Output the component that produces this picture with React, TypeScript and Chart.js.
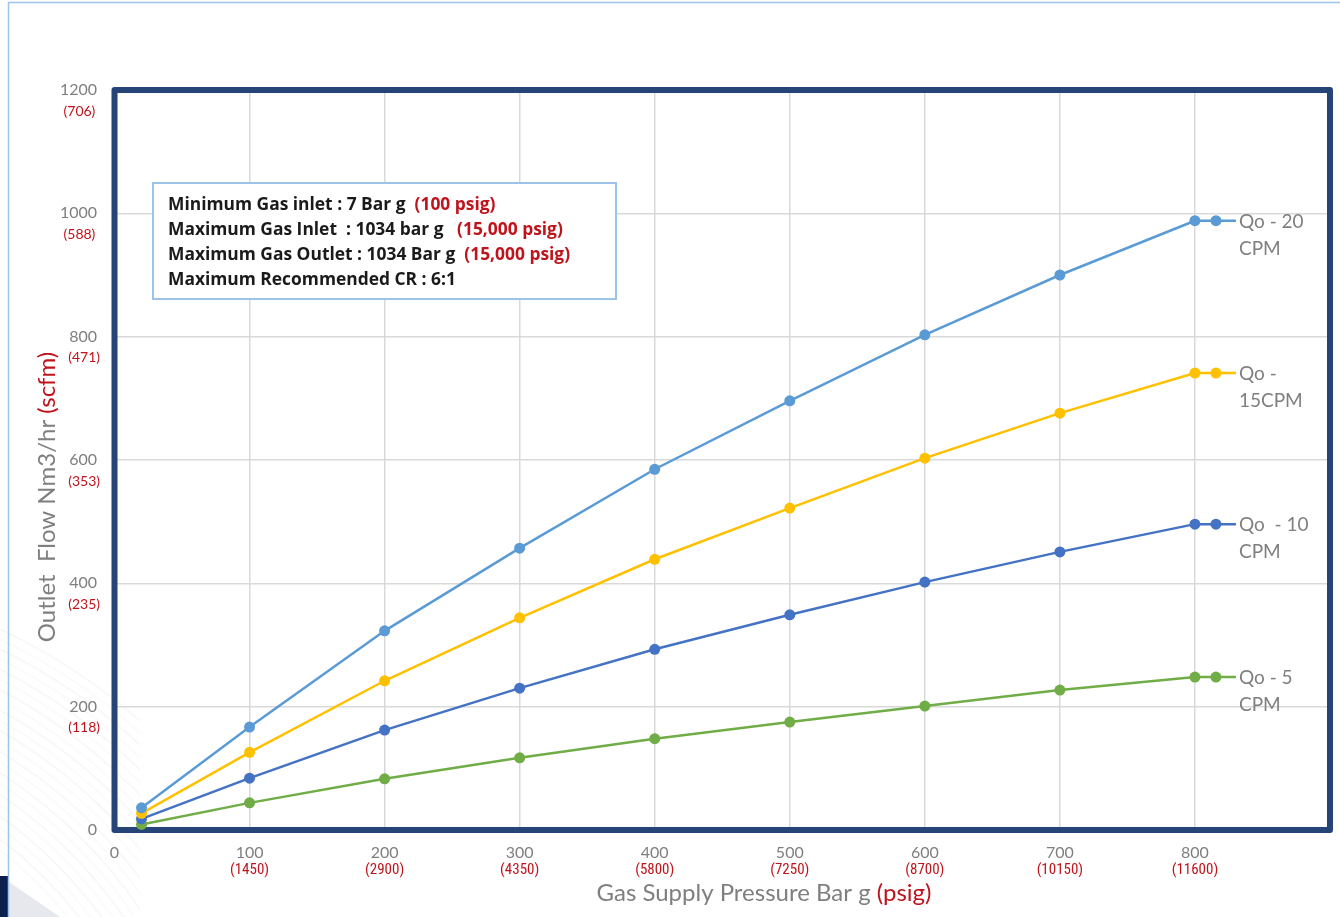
import React, { useEffect, useRef } from "react";
import { Chart, registerables } from "chart.js";

Chart.register(...registerables);

// ---------- data ----------
const pressureBar = [20, 100, 200, 300, 400, 500, 600, 700, 800];
const qo20 = [36, 167, 323, 457, 585, 696, 803, 900, 988];
const qo15 = [27, 126, 242, 344, 439, 522, 603, 676, 741];
const qo10 = [18, 84, 162, 230, 293, 349, 402, 451, 496];
const qo5 = [9, 44, 83, 117, 148, 175, 201, 227, 248];

const seriesLabels = [
  ["Qo - 20", "CPM"],
  ["Qo -", "15CPM"],
  ["Qo  - 10", "CPM"],
  ["Qo - 5", "CPM"],
];
const seriesColors = ["#5B9BD5", "#FFC000", "#4472C4", "#70AD47"];

const xTickValues = [0, 100, 200, 300, 400, 500, 600, 700, 800];
const xTickPsig = ["", "(1450)", "(2900)", "(4350)", "(5800)", "(7250)", "(8700)", "(10150)", "(11600)"];
const yTickValues = [0, 200, 400, 600, 800, 1000, 1200];
const yTickScfm = ["", "(118)", "(235)", "(353)", "(471)", "(588)", "(706)"];

const infoLines: [string, string][] = [
  ["Minimum Gas inlet : 7 Bar g  ", "(100 psig)"],
  ["Maximum Gas Inlet  : 1034 bar g   ", "(15,000 psig)"],
  ["Maximum Gas Outlet : 1034 Bar g  ", "(15,000 psig)"],
  ["Maximum Recommended CR : 6:1", ""],
];

const FONT = "Lato, 'Open Sans', 'Noto Sans', sans-serif";
const BOLDFONT = "'Open Sans', 'Noto Sans', sans-serif";
const NARROW = "'Liberation Sans Narrow', 'Roboto Condensed', Lato, sans-serif";
const GRAY = "#7f7f7f";
const RED = "#C0141C";
const FRAME = "#264478";

const decorPlugin = {
  id: "decor",
  beforeDraw(chart: any) {
    const ctx = chart.ctx as CanvasRenderingContext2D;
    const W = chart.width;
    const H = chart.height;
    ctx.save();
    ctx.fillStyle = "#ffffff";
    ctx.fillRect(0, 0, W, H);
    // faint swirl arcs bottom-left
    ctx.save();
    ctx.beginPath();
    ctx.rect(0, 540, 140, H - 540);
    ctx.clip();
    for (let i = 0; i < 22; i++) {
      ctx.beginPath();
      ctx.strokeStyle = i % 2 ? "rgba(120,140,200,0.06)" : "rgba(160,175,220,0.05)";
      ctx.lineWidth = 2;
      ctx.arc(-260, 1180, 420 + i * 9, 0, Math.PI * 2);
      ctx.stroke();
    }
    ctx.restore();
    // dark shape bottom-left
    ctx.fillStyle = "#0d1f4f";
    ctx.fillRect(0, 876, 8, H - 876);
    ctx.fillStyle = "#e6e8ee";
    ctx.beginPath();
    ctx.moveTo(9, 882);
    ctx.lineTo(60, H);
    ctx.lineTo(9, H);
    ctx.closePath();
    ctx.fill();
    // outer light border
    ctx.strokeStyle = "#9DC3E6";
    ctx.lineWidth = 1.5;
    ctx.beginPath();
    ctx.moveTo(8.5, H);
    ctx.lineTo(8.5, 2.5);
    ctx.lineTo(W + 5, 2.5);
    ctx.stroke();
    ctx.restore();
  },
  beforeDatasetsDraw(chart: any) {
    const ctx = chart.ctx as CanvasRenderingContext2D;
    const a = chart.chartArea;
    ctx.save();
    ctx.strokeStyle = FRAME;
    ctx.lineWidth = 6;
    ctx.lineJoin = "round";
    ctx.strokeRect(a.left, a.top, a.right - a.left, a.bottom - a.top);
    ctx.restore();
  },
  afterDraw(chart: any) {
    const ctx = chart.ctx as CanvasRenderingContext2D;
    const xs = chart.scales.x;
    const ys = chart.scales.y;
    ctx.save();
    // y ticks
    yTickValues.forEach((v, i) => {
      const py = ys.getPixelForValue(v);
      ctx.font = `16px ${FONT}`;
      ctx.fillStyle = GRAY;
      ctx.textAlign = "right";
      ctx.textBaseline = "middle";
      const t = String(v);
      ctx.fillText(t, 97, py);
      const w = ctx.measureText(t).width;
      if (yTickScfm[i]) {
        ctx.font = `14px ${FONT}`;
        ctx.fillStyle = RED;
        ctx.textAlign = "center";
        ctx.fillText(yTickScfm[i], 97 - w / 2 + 1, py + 21);
      }
    });
    // x ticks
    xTickValues.forEach((v, i) => {
      const px = xs.getPixelForValue(v);
      ctx.font = `16px ${FONT}`;
      ctx.fillStyle = GRAY;
      ctx.textAlign = "center";
      ctx.textBaseline = "middle";
      ctx.fillText(String(v), px, ys.bottom + 23);
      if (xTickPsig[i]) {
        ctx.font = `15px ${NARROW}`;
        ctx.fillStyle = RED;
        ctx.fillText(xTickPsig[i], px, ys.bottom + 40);
      }
    });
    // titles
    const drawTwoTone = (a: string, b: string, cx: number, cy: number, size: number) => {
      ctx.font = `${size}px ${FONT}`;
      const wa = ctx.measureText(a).width;
      const wb = ctx.measureText(b).width;
      const start = cx - (wa + wb) / 2;
      ctx.textAlign = "left";
      ctx.textBaseline = "middle";
      ctx.fillStyle = GRAY;
      ctx.fillText(a, start, cy);
      ctx.fillStyle = RED;
      ctx.fillText(b, start + wa, cy);
    };
    drawTwoTone("Gas Supply Pressure Bar g ", "(psig)", 764, 893, 24);
    ctx.save();
    ctx.translate(47, 497);
    ctx.rotate(-Math.PI / 2);
    drawTwoTone("Outlet  Flow Nm3/hr ", "(scfm)", 0, 0, 24);
    ctx.restore();

    // series end labels with legend key
    chart.data.datasets.forEach((ds: any, di: number) => {
      const meta = chart.getDatasetMeta(di);
      const last = meta.data[meta.data.length - 1];
      const x0 = last.x;
      const y0 = last.y;
      ctx.strokeStyle = ds.borderColor;
      ctx.lineWidth = 2.5;
      ctx.beginPath();
      ctx.moveTo(x0, y0);
      ctx.lineTo(x0 + 41, y0);
      ctx.stroke();
      ctx.fillStyle = ds.borderColor;
      ctx.beginPath();
      ctx.arc(x0 + 21, y0, 5.5, 0, Math.PI * 2);
      ctx.fill();
      ctx.font = `19px ${FONT}`;
      ctx.fillStyle = GRAY;
      ctx.textAlign = "left";
      ctx.textBaseline = "middle";
      const lines = seriesLabels[di];
      ctx.fillText(lines[0], x0 + 44, y0 + 1);
      ctx.fillText(lines[1], x0 + 44, y0 + 28);
    });

    // info box
    const bx = 153, by = 183, bw = 463, bh = 116;
    ctx.fillStyle = "#ffffff";
    ctx.fillRect(bx, by, bw, bh);
    ctx.strokeStyle = "#9DC3E6";
    ctx.lineWidth = 2;
    ctx.strokeRect(bx, by, bw, bh);
    ctx.font = `bold 17.4px ${BOLDFONT}`;
    ctx.textAlign = "left";
    ctx.textBaseline = "middle";
    infoLines.forEach(([a, b], i) => {
      const yy = by + 22 + i * 25;
      ctx.fillStyle = "#1a1a1a";
      ctx.fillText(a, bx + 15, yy);
      if (b) {
        const w = ctx.measureText(a).width;
        ctx.fillStyle = RED;
        ctx.fillText(b, bx + 15 + w, yy);
      }
    });
    ctx.restore();
  },
};

export default function App() {
  const ref = useRef<HTMLCanvasElement | null>(null);
  useEffect(() => {
    if (!ref.current) return;
    const all = [qo20, qo15, qo10, qo5];
    const chart = new Chart(ref.current, {
      type: "line",
      data: {
        datasets: all.map((vals, i) => ({
          label: seriesLabels[i].join(" "),
          data: vals.map((v, j) => ({ x: pressureBar[j], y: v })),
          borderColor: seriesColors[i],
          backgroundColor: seriesColors[i],
          borderWidth: 2.5,
          pointRadius: 5.5,
          pointHoverRadius: 5.5,
          pointBorderWidth: 0,
          tension: 0,
        })),
      },
      options: {
        responsive: false,
        animation: false,
        devicePixelRatio: 1,
        layout: { padding: { left: 114.5, right: 10, top: 90, bottom: 87 } },
        plugins: { legend: { display: false }, tooltip: { enabled: false } },
        scales: {
          x: {
            type: "linear",
            min: 0,
            max: 900,
            ticks: { display: false, stepSize: 100 },
            grid: { color: "#d9d9d9", lineWidth: 1.5, drawTicks: false },
            border: { display: false },
          },
          y: {
            type: "linear",
            min: 0,
            max: 1200,
            ticks: { display: false, stepSize: 200 },
            grid: { color: "#d9d9d9", lineWidth: 1.5, drawTicks: false },
            border: { display: false },
          },
        },
      },
      plugins: [decorPlugin],
    });
    return () => chart.destroy();
  }, []);
  return (
    <div style={{ position: "fixed", left: 0, top: 0, width: 1340, height: 917, background: "#fff" }}>
      <canvas ref={ref} width={1340} height={917} style={{ width: 1340, height: 917, display: "block" }} />
    </div>
  );
}
